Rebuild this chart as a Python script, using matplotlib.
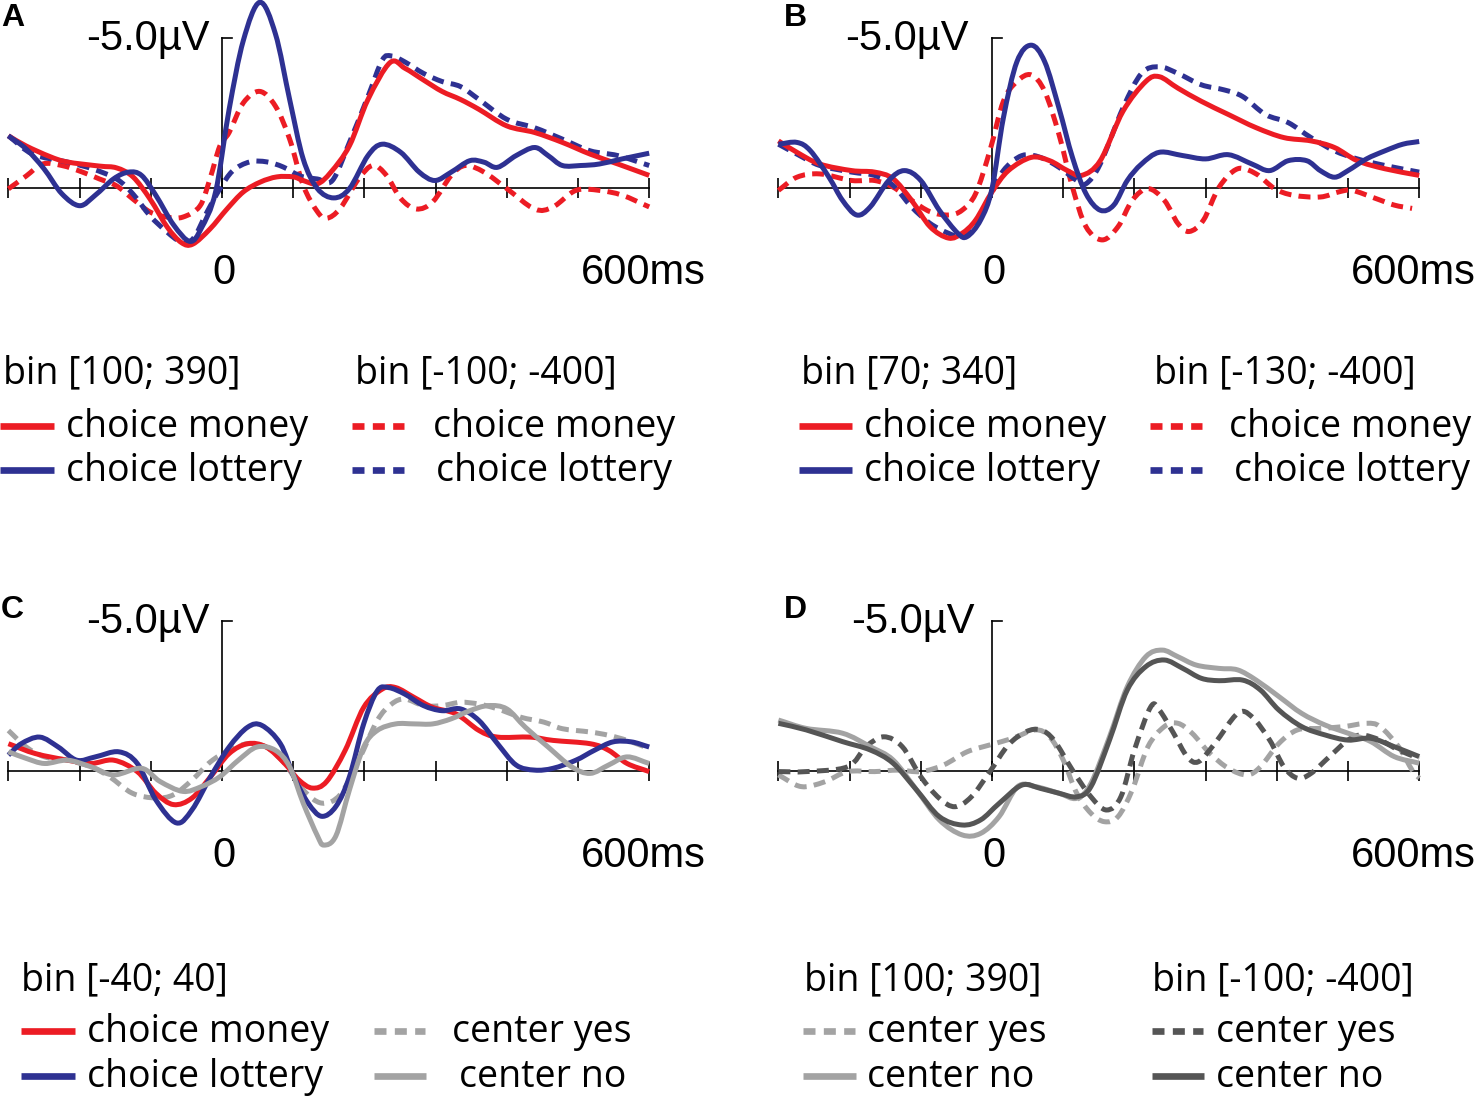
import matplotlib
matplotlib.use('Agg')
import matplotlib.pyplot as plt
import numpy as np
from matplotlib.path import Path
from matplotlib.patches import PathPatch
from matplotlib.lines import Line2D

W, H = 1477, 1098

red = '#ec1c24'
blue = '#2e3192'
light = '#a3a3a3'
dark = '#555555'

# ---- panel A : bin [100; 390] solid, bin [-100; -400] dashed ----
a_lot1_t = [-300, -275, -250, -225, -200, -178, -152, -131, -113, -93, -68, -45, -29, -9, 10, 30, 53, 75, 95, 114,
            134, 157, 179, 205, 225, 251, 277, 299, 322, 348, 368, 387, 413, 439, 458, 478, 504, 530, 562, 600]
a_lot1_v = [-1.74, -1.30, -0.64, 0.19, 0.59, 0.24, -0.31, -0.53, -0.42, 0.24, 1.23, 1.78, 1.34, 0.13, -2.62, -4.92,
            -6.19, -5.14, -2.95, -0.97, 0.02, 0.33, 0.02, -1.08, -1.46, -1.19, -0.53, -0.25, -0.53, -0.91, -0.86,
            -0.69, -1.08, -1.35, -1.08, -0.75, -0.75, -0.80, -0.97, -1.16]
a_mon1_t = [-300, -275, -242, -218, -172, -148, -125, -101, -77, -57, -41, -17, 7, 30, 54, 77, 100, 114, 134, 153,
            179, 205, 236, 257, 283, 309, 335, 361, 400, 439, 478, 517, 556, 600]
a_mon1_v = [-1.74, -1.40, -1.05, -0.87, -0.73, -0.67, -0.37, 0.37, 1.30, 1.82, 1.87, 1.37, 0.70, 0.13, -0.20, -0.37,
            -0.37, -0.25, -0.14, -0.53, -1.41, -2.95, -4.18, -3.99, -3.60, -3.22, -2.95, -2.62, -2.07, -1.85, -1.52,
            -1.13, -0.80, -0.42]
a_lot2_t = [-300, -266, -218, -181, -148, -125, -101, -77, -59, -41, -21, -3, 15, 39, 63, 86, 110, 134, 155, 179,
            205, 225, 238, 257, 283, 309, 335, 361, 400, 439, 478, 517, 556, 600]
a_lot2_v = [-1.74, -1.13, -0.87, -0.63, -0.30, 0.20, 0.93, 1.47, 1.77, 1.70, 0.80, 0.03, -0.57, -0.87, -0.87, -0.70,
            -0.40, -0.30, -0.25, -1.52, -3.05, -4.26, -4.40, -4.20, -3.82, -3.55, -3.38, -2.95, -2.29, -2.01, -1.63,
            -1.24, -1.08, -0.75]
a_mon2_t = [-300, -275, -252, -225, -196, -172, -148, -125, -101, -77, -55, -31, -17, -3, 10, 30, 53, 75, 95, 114,
            134, 147, 166, 192, 212, 231, 251, 273, 296, 322, 342, 368, 400, 439, 465, 497, 530, 562, 600]
a_mon2_v = [0.03, -0.40, -0.80, -0.75, -0.53, -0.30, -0.07, 0.37, 0.80, 0.97, 0.97, 0.60, -0.30, -1.40, -1.85,
            -2.84, -3.22, -2.73, -1.63, -0.09, 0.79, 1.01, 0.68, -0.31, -0.75, -0.42, 0.35, 0.70, 0.46, -0.42, -0.75,
            -0.53, 0.02, 0.70, 0.63, 0.08, 0.08, 0.24, 0.63]

# ---- panel B : bin [70; 340] solid, bin [-130; -400] dashed ----
b_lot1_t = [-300, -274, -255, -229, -210, -190, -171, -145, -123, -100, -74, -48, -35, -16, 0, 16, 35, 55, 74, 94,
            113, 132, 152, 171, 190, 210, 235, 268, 300, 332, 365, 390, 416, 442, 461, 481, 500, 526, 552, 577, 600]
b_lot1_v = [-1.46, -1.52, -1.24, -0.36, 0.41, 0.90, 0.63, -0.25, -0.58, -0.25, 0.74, 1.51, 1.62, 1.07, 0.02, -2.34,
            -4.21, -4.76, -4.21, -2.67, -1.02, 0.19, 0.74, 0.57, -0.25, -0.80, -1.19, -1.08, -0.97, -1.11, -0.80,
            -0.58, -0.91, -0.91, -0.58, -0.36, -0.58, -0.97, -1.24, -1.46, -1.55]
b_mon1_t = [-300, -274, -242, -197, -165, -139, -113, -87, -61, -42, -23, 0, 23, 55, 81, 106, 126, 152, 184, 216,
            235, 261, 294, 332, 371, 410, 448, 481, 513, 552, 600]
b_mon1_v = [-1.57, -1.19, -0.80, -0.58, -0.53, -0.31, 0.41, 1.29, 1.67, 1.51, 1.07, 0.13, -0.58, -1.02, -0.91, -0.58,
            -0.42, -0.91, -2.56, -3.55, -3.71, -3.33, -2.89, -2.45, -2.01, -1.68, -1.57, -1.35, -0.91, -0.64, -0.42]
b_lot2_t = [-300, -274, -242, -197, -165, -139, -113, -87, -61, -42, -23, -3, 16, 42, 68, 94, 119, 132, 152, 184,
            210, 235, 261, 294, 326, 352, 384, 416, 448, 481, 513, 552, 600]
b_lot2_v = [-1.46, -1.13, -0.75, -0.53, -0.42, -0.09, 0.63, 1.18, 1.51, 1.62, 1.29, 0.30, -0.58, -1.08, -1.02, -0.69,
            -0.25, -0.14, -0.80, -2.67, -3.82, -4.04, -3.82, -3.44, -3.27, -3.05, -2.45, -2.18, -1.68, -1.24, -0.97,
            -0.75, -0.53]
b_mon2_t = [-300, -274, -242, -197, -165, -139, -113, -87, -61, -42, -23, -3, 16, 35, 55, 74, 94, 113, 132, 155,
            177, 197, 219, 242, 261, 277, 297, 319, 345, 371, 397, 423, 461, 487, 506, 539, 565, 590]
b_mon2_v = [0.08, -0.36, -0.47, -0.25, -0.25, -0.03, 0.41, 0.79, 0.90, 0.74, 0.19, -1.24, -2.89, -3.55, -3.77, -3.22,
            -1.79, -0.03, 1.29, 1.73, 1.29, 0.41, 0.02, 0.41, 1.18, 1.45, 1.07, -0.03, -0.64, -0.47, 0.02, 0.24, 0.30,
            0.13, 0.08, 0.35, 0.57, 0.68]

# ---- panel C : bin [-40; 40] ----
c_mon_t = [-300, -262, -217, -184, -152, -119, -93, -68, -42, -16, 10, 36, 62, 88, 108, 127, 147, 173, 199, 225, 244,
           270, 296, 329, 361, 387, 433, 465, 517, 543, 569, 600]
c_mon_v = [-0.91, -0.58, -0.36, -0.25, -0.36, 0.02, 0.74, 1.12, 0.90, 0.19, -0.58, -0.91, -0.80, -0.25, 0.30, 0.57,
           0.35, -0.69, -2.12, -2.73, -2.78, -2.45, -2.12, -1.90, -1.35, -1.13, -1.13, -1.02, -0.91, -0.69, -0.25, 0.02]
c_lot_t = [-300, -282, -256, -230, -204, -178, -145, -119, -93, -64, -42, -16, 10, 36, 56, 82, 101, 121, 140, 160,
           179, 199, 218, 234, 257, 283, 309, 335, 361, 387, 413, 439, 465, 497, 523, 549, 575, 600]
c_lot_v = [-0.53, -0.91, -1.13, -0.80, -0.36, -0.47, -0.64, -0.25, 0.96, 1.73, 1.29, 0.19, -0.80, -1.46, -1.52, -0.91,
           0.19, 1.07, 1.51, 1.18, 0.19, -1.57, -2.67, -2.78, -2.56, -2.18, -2.01, -2.07, -1.68, -0.91, -0.20, -0.03,
           -0.09, -0.36, -0.69, -0.97, -0.97, -0.80]
c_yes_t = [-300, -275, -249, -217, -184, -158, -126, -93, -68, -42, -16, 10, 36, 62, 88, 114, 140, 166, 192, 218, 238,
           257, 283, 309, 335, 361, 387, 420, 452, 478, 517, 543, 569, 600]
c_yes_v = [-1.35, -0.80, -0.47, -0.36, -0.14, 0.19, 0.74, 0.90, 0.79, 0.30, -0.31, -0.69, -0.91, -0.80, -0.25, 0.63,
           1.07, 0.79, -0.36, -1.68, -2.23, -2.40, -2.18, -2.18, -2.29, -2.23, -2.07, -1.79, -1.63, -1.41, -1.30,
           -1.19, -1.02, -0.75]
c_no_t = [-300, -275, -249, -217, -184, -152, -113, -87, -55, -29, -3, 23, 49, 75, 95, 114, 134, 143, 160, 179, 199,
          218, 244, 270, 296, 322, 348, 374, 400, 426, 458, 491, 517, 543, 569, 600]
c_no_v = [-0.64, -0.42, -0.25, -0.36, -0.14, 0.13, -0.09, 0.35, 0.68, 0.52, 0.19, -0.36, -0.80, -0.69, -0.14, 1.07,
          2.16, 2.47, 2.16, 0.63, -0.80, -1.35, -1.57, -1.57, -1.57, -1.74, -2.01, -2.18, -2.07, -1.46, -0.80, -0.14,
          0.08, -0.20, -0.47, -0.25]

# ---- panel D : bin [100; 390] light, bin [-100; -400] dark ----
d_no1_t = [-300, -261, -210, -171, -139, -106, -74, -42, -16, 10, 36, 61, 94, 119, 139, 165, 190, 216, 239, 261, 287,
           319, 345, 371, 403, 435, 468, 500, 532, 565, 600]
d_no1_v = [-1.70, -1.42, -1.26, -0.81, -0.37, 0.63, 1.63, 2.13, 2.08, 1.52, 0.52, 0.52, 0.74, 0.91, 0.41, -1.14,
           -2.81, -3.81, -4.03, -3.81, -3.53, -3.42, -3.37, -3.03, -2.48, -1.92, -1.53, -1.26, -0.98, -0.48, -0.26]
d_no2_t = [-300, -261, -210, -171, -139, -106, -74, -42, -16, 10, 42, 68, 94, 119, 139, 165, 190, 216, 242, 268, 294,
           319, 352, 377, 403, 435, 468, 500, 532, 565, 600]
d_no2_v = [-1.59, -1.37, -0.98, -0.70, -0.26, 0.63, 1.52, 1.80, 1.63, 1.08, 0.47, 0.58, 0.74, 0.86, 0.52, -1.03,
           -2.70, -3.48, -3.70, -3.42, -3.09, -3.01, -3.03, -2.70, -2.03, -1.48, -1.20, -1.03, -1.09, -0.81, -0.48]
d_yes1_t = [-300, -268, -235, -203, -165, -132, -100, -68, -35, -3, 29, 61, 81, 100, 119, 139, 158, 177, 197, 219, 242,
            261, 281, 306, 332, 358, 377, 403, 429, 461, 494, 526, 545, 571, 590, 600]
d_yes1_v = [0.13, 0.52, 0.36, 0.02, 0.02, -0.03, 0.02, -0.20, -0.64, -0.87, -1.09, -1.37, -1.14, -0.37, 0.74, 1.41,
            1.69, 1.52, 0.63, -0.81, -1.48, -1.59, -1.26, -0.59, -0.09, 0.13, -0.14, -0.92, -1.37, -1.42, -1.48,
            -1.59, -1.48, -0.81, -0.03, 0.24]
d_yes2_t = [-300, -261, -203, -177, -152, -126, -100, -74, -52, -29, -3, 23, 48, 68, 87, 113, 139, 161, 181, 200, 223,
            235, 255, 274, 290, 313, 345, 365, 390, 410, 429, 448, 474, 500, 519, 545, 571, 600]
d_yes2_v = [0.02, 0.02, -0.14, -0.81, -1.14, -0.81, 0.19, 0.91, 1.19, 0.86, 0.02, -0.87, -1.31, -1.37, -1.03, -0.03,
            0.86, 1.30, 0.86, -0.70, -2.14, -2.03, -1.26, -0.48, -0.31, -0.92, -1.92, -1.81, -1.03, -0.14, 0.24, 0.08,
            -0.48, -1.03, -1.20, -1.03, -0.70, -0.42]

time_ticks = [-300, -200, -100, 0, 100, 200, 300, 400, 500, 600]

SOLID = '-'
DASH = (0, (2.4, 1.45))
LEG_DASH = (0, (1.8, 1.25))

LW = 3.6
PX_MS = 0.712   # pixels per ms
PX_UV = 30.0    # pixels per microvolt
XLIM = (-320, 620)
YLIM = (2.7, -6.5)

fig = plt.figure(figsize=(W / 100, H / 100), dpi=100)
fig.patch.set_facecolor('white')


def smooth_path(t, v):
    p = np.column_stack([t, v]).astype(float)
    ext = np.vstack([2 * p[0] - p[1], p, 2 * p[-1] - p[-2]])
    verts = [p[0]]
    codes = [Path.MOVETO]
    for i in range(1, len(ext) - 2):
        p0, p1, p2, p3 = ext[i - 1], ext[i], ext[i + 1], ext[i + 2]
        verts += [p1 + (p2 - p0) / 6, p2 - (p3 - p1) / 6, p2]
        codes += [Path.CURVE4] * 3
    return Path(verts, codes)


def make_axes(x_zero, y_base):
    left = x_zero + XLIM[0] * PX_MS
    width = (XLIM[1] - XLIM[0]) * PX_MS
    top = y_base + YLIM[1] * PX_UV
    height = (YLIM[0] - YLIM[1]) * PX_UV
    ax = fig.add_axes([left / W, 1 - (top + height) / H, width / W, height / H])
    ax.set_xlim(*XLIM)
    ax.set_ylim(*YLIM)
    ax.axis('off')
    # time axis with ticks
    ax.plot([time_ticks[0], time_ticks[-1]], [0, 0], color='black', lw=1.2, zorder=1)
    ax.vlines(time_ticks, -0.33, 0.33, color='black', lw=1.2, zorder=1)
    # voltage scale bar
    ax.plot([0, 0], [0.15, -5], color='black', lw=1.2, zorder=1)
    ax.plot([0, 14], [-5, -5], color='black', lw=1.2, zorder=1)
    return ax


def curve(ax, t, v, color, ls):
    ax.add_patch(PathPatch(smooth_path(t, v), fill=False, edgecolor=color, lw=LW,
                           linestyle=ls, capstyle='butt', joinstyle='round', clip_on=False, zorder=3))


def scale_labels(ax, v_label_x):
    kw = dict(family='Liberation Sans', fontsize=30, color='black', clip_on=False)
    ax.text(v_label_x, -4.6, '-5.0\u00b5V', ha='right', va='baseline', **kw)
    ax.text(3, 3.2, '0', ha='center', va='baseline', **kw)
    ax.text(680, 3.2, '600ms', ha='right', va='baseline', **kw)


LEG_FONT = dict(family='Open Sans', fontsize=27, color='black')


def header(x, y, text):
    fig.text(x / W, 1 - y / H, text, ha='left', va='baseline', **LEG_FONT)


def legend_row(x0, x1, y, color, ls, xt, text):
    fig.add_artist(Line2D([x0 / W, x1 / W], [1 - y / H, 1 - y / H], transform=fig.transFigure,
                          color=color, lw=4.8, linestyle=ls, solid_capstyle='butt', dash_capstyle='butt'))
    fig.text(xt / W, 1 - (y + 11) / H, text, ha='left', va='baseline', **LEG_FONT)


def letter(x, y, s):
    fig.text(x / W, 1 - y / H, s, ha='left', va='baseline', family='Liberation Sans',
             fontweight='bold', fontsize=23)


# ---- A ----
axA = make_axes(222, 188)
curve(axA, a_mon2_t, a_mon2_v, red, DASH)
curve(axA, a_lot2_t, a_lot2_v, blue, DASH)
curve(axA, a_mon1_t, a_mon1_v, red, SOLID)
curve(axA, a_lot1_t, a_lot1_v, blue, SOLID)
scale_labels(axA, -17)
letter(1, 26, 'A')

# ---- B ----
axB = make_axes(992, 188)
curve(axB, b_mon2_t, b_mon2_v, red, DASH)
curve(axB, b_lot2_t, b_lot2_v, blue, DASH)
curve(axB, b_mon1_t, b_mon1_v, red, SOLID)
curve(axB, b_lot1_t, b_lot1_v, blue, SOLID)
scale_labels(axB, -33)
letter(784, 26, 'B')

# ---- C ----
axC = make_axes(222, 771)
curve(axC, c_yes_t, c_yes_v, light, DASH)
curve(axC, c_mon_t, c_mon_v, red, SOLID)
curve(axC, c_lot_t, c_lot_v, blue, SOLID)
curve(axC, c_no_t, c_no_v, light, SOLID)
scale_labels(axC, -17)
letter(1, 618, 'C')

# ---- D ----
axD = make_axes(992, 771)
curve(axD, d_yes1_t, d_yes1_v, light, DASH)
curve(axD, d_yes2_t, d_yes2_v, dark, DASH)
curve(axD, d_no1_t, d_no1_v, light, SOLID)
curve(axD, d_no2_t, d_no2_v, dark, SOLID)
scale_labels(axD, -24)
letter(784, 618, 'D')

# ---- legends ----
header(3, 383, 'bin [100; 390]')
header(355, 383, 'bin [-100; -400]')
legend_row(0, 54, 426, red, SOLID, 66, 'choice money')
legend_row(0, 54, 470, blue, SOLID, 66, 'choice lottery')
legend_row(352, 404, 426, red, LEG_DASH, 433, 'choice money')
legend_row(352, 404, 470, blue, LEG_DASH, 436, 'choice lottery')

header(801, 383, 'bin [70; 340]')
header(1154, 383, 'bin [-130; -400]')
legend_row(799, 852, 426, red, SOLID, 864, 'choice money')
legend_row(799, 852, 470, blue, SOLID, 864, 'choice lottery')
legend_row(1150, 1202, 426, red, LEG_DASH, 1229, 'choice money')
legend_row(1150, 1202, 470, blue, LEG_DASH, 1234, 'choice lottery')

header(21, 990, 'bin [-40; 40]')
legend_row(21, 75, 1031, red, SOLID, 87, 'choice money')
legend_row(21, 75, 1076, blue, SOLID, 87, 'choice lottery')
legend_row(374, 425, 1031, light, LEG_DASH, 452, 'center yes')
legend_row(374, 426, 1076, light, SOLID, 459, 'center no')

header(804, 990, 'bin [100; 390]')
header(1152, 990, 'bin [-100; -400]')
legend_row(803, 855, 1031, light, LEG_DASH, 867, 'center yes')
legend_row(803, 856, 1076, light, SOLID, 867, 'center no')
legend_row(1152, 1203, 1031, dark, LEG_DASH, 1216, 'center yes')
legend_row(1152, 1204, 1076, dark, SOLID, 1216, 'center no')

fig.savefig('out.png', dpi=100, facecolor='white')
